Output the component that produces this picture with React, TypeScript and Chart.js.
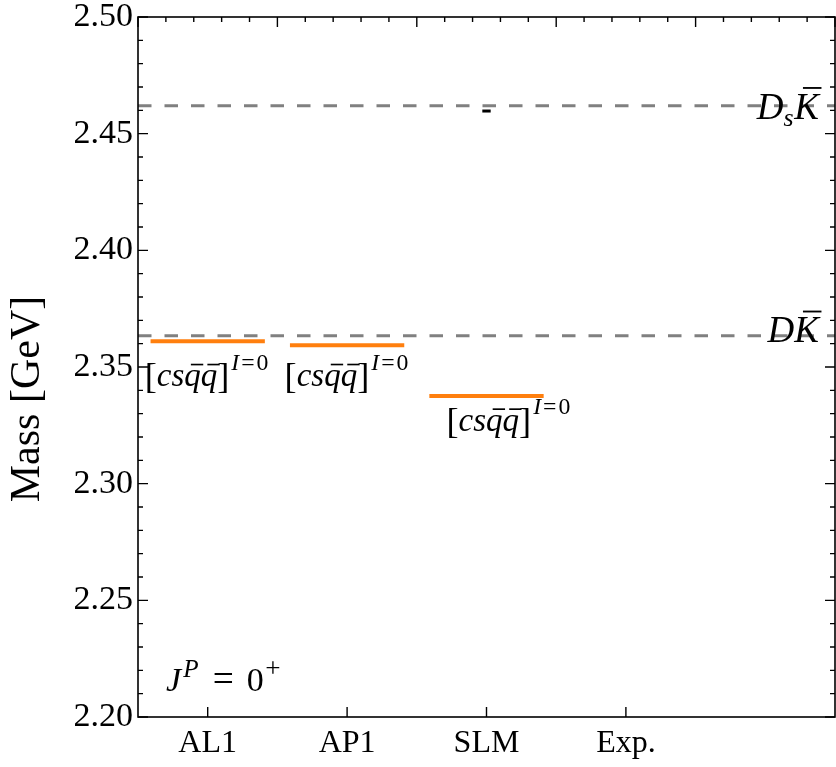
import { useEffect, useRef } from "react";
import { Chart, registerables } from "chart.js";

Chart.register(...registerables);

// ---------------- data ----------------
const CATEGORIES = ["AL1", "AP1", "SLM", "Exp."];
const CATEGORY_X = [0.5, 1.5, 2.5, 3.5];

// [c s qbar qbar]^{I=0} levels: model index and mass (GeV)
const LEVEL_MODEL = [0, 1, 2];
const LEVEL_MASS = [2.361, 2.3593, 2.3376];

// small black marker
const MARK_MODEL = [2];
const MARK_MASS = [2.4597];

// thresholds
const THRESHOLD_KIND = ["DsK", "DK"];
const THRESHOLD_MASS = [2.462, 2.3634];

const Y_TICKS = [2.2, 2.25, 2.3, 2.35, 2.4, 2.45, 2.5];
const Y_MIN = 2.2;
const Y_MAX = 2.5;
const Y_MINOR_STEP = 0.01;
const X_MIN = 0;
const X_MAX = 5;
const X_TOP_MAJOR = [0, 1, 2, 3, 4, 5];
const X_TOP_MINOR_STEP = 0.2;

// ---------------- styles ----------------
const FONT = '"Liberation Serif", "Times New Roman", Times, serif';
const LEVEL_HALF_WIDTH = 0.41;
const MARK_HALF_WIDTH = 0.03;
const LEVEL_LABEL_OFFSET = [
  { dx: -63, dy: 45 },
  { dx: -62.5, dy: 41 },
  { dx: -40, dy: 35 },
];
const THRESHOLD_LABEL_DY = [13, 6.5];

type Seg = {
  t: string;
  italic?: boolean;
  scale?: number;
  rise?: number;
  bar?: "x" | "cap";
  gap?: number;
};

function fontFor(s: Seg, base: number) {
  const size = base * (s.scale ?? 1);
  return `${s.italic ? "italic " : ""}${size}px ${FONT}`;
}

function drawRich(
  ctx: CanvasRenderingContext2D,
  segs: Seg[],
  x: number,
  baseline: number,
  base: number,
  align: "left" | "right"
) {
  ctx.save();
  ctx.textBaseline = "alphabetic";
  ctx.textAlign = "left";
  const widths = segs.map((s) => {
    ctx.font = fontFor(s, base);
    return ctx.measureText(s.t).width;
  });
  let total = 0;
  segs.forEach((s, i) => {
    total += (s.gap ?? 0) * base + widths[i];
  });
  let cx = align === "right" ? x - total : x;
  segs.forEach((s, i) => {
    cx += (s.gap ?? 0) * base;
    const size = base * (s.scale ?? 1);
    const by = baseline - (s.rise ?? 0) * base;
    ctx.font = fontFor(s, base);
    ctx.fillStyle = "#000";
    ctx.fillText(s.t, cx, by);
    if (s.bar) {
      const w = widths[i];
      const top = s.bar === "x" ? by - size * 0.46 - size * 0.2 : by - size * 0.66 - size * 0.17;
      const shift = size * 0.1;
      ctx.beginPath();
      ctx.strokeStyle = "#000";
      ctx.lineWidth = Math.max(1.5, size * 0.05);
      ctx.moveTo(cx + w * 0.2 + shift, top);
      ctx.lineTo(cx + w * 0.95 + shift, top);
      ctx.stroke();
    }
    cx += widths[i];
  });
  ctx.restore();
}

const LEVEL_SEGS: Seg[] = [
  { t: "[", scale: 1.1, rise: -0.05 },
  { t: "c", italic: true },
  { t: "s", italic: true },
  { t: "q", italic: true, bar: "x" },
  { t: "q", italic: true, bar: "x" },
  { t: "]", scale: 1.1, rise: -0.05 },
  { t: "I", italic: true, scale: 0.72, rise: 0.5, gap: 0.06 },
  { t: "=", scale: 0.72, rise: 0.5, gap: 0.06 },
  { t: "0", scale: 0.72, rise: 0.5, gap: 0.06 },
];

const THRESHOLD_SEGS: Record<string, Seg[]> = {
  DsK: [
    { t: "D", italic: true },
    { t: "s", italic: true, scale: 0.7, rise: -0.2 },
    { t: "K", italic: true, bar: "cap", gap: 0.02 },
  ],
  DK: [
    { t: "D", italic: true },
    { t: "K", italic: true, bar: "cap" },
  ],
};

const JP_SEGS: Seg[] = [
  { t: "J", italic: true },
  { t: "P", italic: true, scale: 0.74, rise: 0.42, gap: 0.06 },
  { t: "=", scale: 1.1, gap: 0.42 },
  { t: "0", gap: 0.38 },
  { t: "+", scale: 0.8, rise: 0.42, gap: 0.04 },
];

const decorPlugin = {
  id: "decor",
  afterDatasetsDraw(chart: any) {
    const ctx: CanvasRenderingContext2D = chart.ctx;
    const { left, right, top, bottom } = chart.chartArea;
    const xs = chart.scales.x;
    const ys = chart.scales.y;
    ctx.save();
    // spines
    ctx.strokeStyle = "#000";
    ctx.lineWidth = 1.6;
    ctx.strokeRect(left, top, right - left, bottom - top);
    // ticks
    ctx.lineWidth = 1.4;
    const MAJ = 10;
    const MIN = 5;
    ctx.beginPath();
    const nMinor = Math.round((Y_MAX - Y_MIN) / Y_MINOR_STEP);
    for (let i = 0; i <= nMinor; i++) {
      const v = Y_MIN + i * Y_MINOR_STEP;
      const isMajor = Y_TICKS.some((t) => Math.abs(t - v) < 1e-6);
      const len = isMajor ? MAJ : MIN;
      const py = ys.getPixelForValue(v);
      ctx.moveTo(left, py);
      ctx.lineTo(left + len, py);
      ctx.moveTo(right, py);
      ctx.lineTo(right - len, py);
    }
    CATEGORY_X.forEach((v) => {
      const px = xs.getPixelForValue(v);
      ctx.moveTo(px, bottom);
      ctx.lineTo(px, bottom - MAJ);
    });
    const nTop = Math.round((X_MAX - X_MIN) / X_TOP_MINOR_STEP);
    for (let i = 0; i <= nTop; i++) {
      const v = X_MIN + i * X_TOP_MINOR_STEP;
      const isMajor = X_TOP_MAJOR.some((t) => Math.abs(t - v) < 1e-6);
      const px = xs.getPixelForValue(v);
      ctx.moveTo(px, top);
      ctx.lineTo(px, top + (isMajor ? MAJ : MIN));
    }
    ctx.stroke();

    // threshold labels
    const rightX = xs.getPixelForValue(X_MAX) - 16;
    THRESHOLD_KIND.forEach((k, i) => {
      const py = ys.getPixelForValue(THRESHOLD_MASS[i]);
      drawRich(ctx, THRESHOLD_SEGS[k], rightX, py + THRESHOLD_LABEL_DY[i], 37, "right");
    });

    // level labels
    LEVEL_MASS.forEach((m, i) => {
      const px = xs.getPixelForValue(CATEGORY_X[LEVEL_MODEL[i]]);
      const py = ys.getPixelForValue(m);
      const off = LEVEL_LABEL_OFFSET[i];
      drawRich(ctx, LEVEL_SEGS, px + off.dx, py + off.dy, 33, "left");
    });

    // J^P label
    drawRich(ctx, JP_SEGS, left + 28, bottom - 26, 34, "left");

    // y axis title
    ctx.save();
    ctx.translate(28, 399);
    ctx.rotate(-Math.PI / 2);
    ctx.font = `42px ${FONT}`;
    ctx.fillStyle = "#000";
    ctx.textAlign = "center";
    ctx.textBaseline = "middle";
    ctx.fillText("Mass [GeV]", 0, 0);
    ctx.restore();

    ctx.restore();
  },
};

export default function App() {
  const ref = useRef<HTMLCanvasElement | null>(null);
  useEffect(() => {
    document.body.style.margin = "0";
    const canvas = ref.current;
    if (!canvas) return;

    const datasets: any[] = [];
    THRESHOLD_MASS.forEach((m) => {
      datasets.push({
        data: [
          { x: X_MIN, y: m },
          { x: X_MAX, y: m },
        ],
        borderColor: "#808080",
        borderWidth: 3,
        borderDash: [13.5, 13],
        pointRadius: 0,
        fill: false,
      });
    });
    LEVEL_MASS.forEach((m, i) => {
      const c = CATEGORY_X[LEVEL_MODEL[i]];
      datasets.push({
        data: [
          { x: c - LEVEL_HALF_WIDTH, y: m },
          { x: c + LEVEL_HALF_WIDTH, y: m },
        ],
        borderColor: "#ff7f0e",
        borderWidth: 4,
        pointRadius: 0,
        fill: false,
      });
    });
    MARK_MASS.forEach((m, i) => {
      const c = CATEGORY_X[MARK_MODEL[i]];
      datasets.push({
        data: [
          { x: c - MARK_HALF_WIDTH, y: m },
          { x: c + MARK_HALF_WIDTH, y: m },
        ],
        borderColor: "#000",
        borderWidth: 3,
        pointRadius: 0,
        fill: false,
      });
    });

    const chart = new Chart(canvas, {
      type: "line",
      data: { datasets },
      options: {
        animation: false,
        responsive: false,
        devicePixelRatio: 1,
        layout: { padding: { top: 17, right: 1, left: 0, bottom: 0 } },
        plugins: { legend: { display: false }, tooltip: { enabled: false } },
        scales: {
          x: {
            type: "linear",
            min: X_MIN,
            max: X_MAX,
            afterBuildTicks: (s: any) => {
              s.ticks = CATEGORY_X.map((v) => ({ value: v }));
            },
            afterFit: (s: any) => {
              s.height = 50;
              s.paddingLeft = 0;
              s.paddingRight = 0;
            },
            ticks: {
              autoSkip: false,
              maxRotation: 0,
              color: "#000",
              padding: 11,
              font: { family: FONT, size: 32, lineHeight: 1 },
              callback: (v: any) => {
                const idx = CATEGORY_X.findIndex((c) => Math.abs(c - Number(v)) < 1e-6);
                return idx >= 0 ? CATEGORIES[idx] : "";
              },
            },
            grid: { display: false, drawTicks: false },
            border: { display: false },
          },
          y: {
            type: "linear",
            min: Y_MIN,
            max: Y_MAX,
            afterBuildTicks: (s: any) => {
              s.ticks = Y_TICKS.map((v) => ({ value: v }));
            },
            afterFit: (s: any) => {
              s.width = 138;
              s.paddingTop = 0;
              s.paddingBottom = 0;
            },
            ticks: {
              color: "#000",
              padding: 5,
              font: { family: FONT, size: 34, lineHeight: 1 },
              callback: (v: any) => Number(v).toFixed(2),
            },
            grid: { display: false, drawTicks: false },
            border: { display: false },
          },
        },
      },
      plugins: [decorPlugin],
    });
    return () => chart.destroy();
  }, []);

  return (
    <div style={{ position: "relative", width: 836, height: 767 }}>
      <canvas ref={ref} width={836} height={767} style={{ display: "block" }} />
    </div>
  );
}
